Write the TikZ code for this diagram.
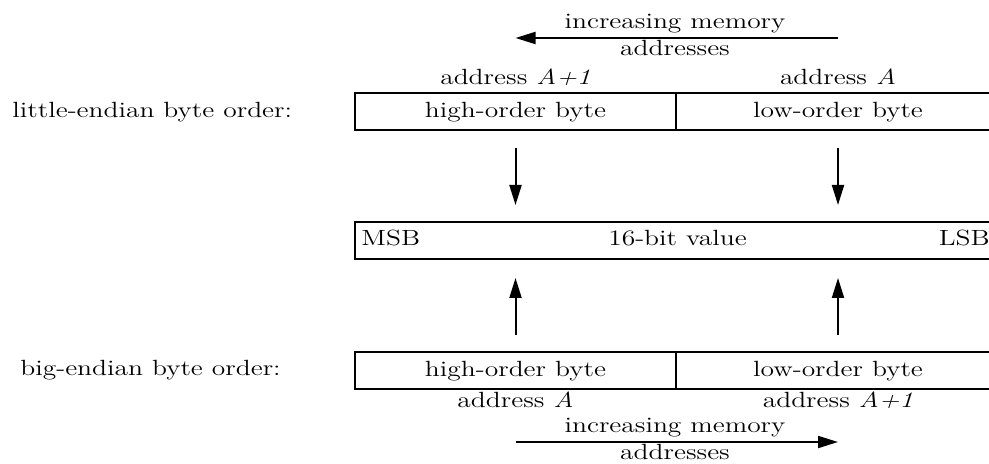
\documentclass[tikz,border=0pt]{standalone}
\usetikzlibrary{arrows.meta}
% widen the serif text a little, as in the printed figure
\newcommand\sx[1]{\scalebox{1.25}[1]{#1}}
\begin{document}
\begin{tikzpicture}[x=0.5pt,y=-0.5pt,
  txt/.style={inner sep=0pt, font=\fontsize{11}{13}\selectfont,
              text height=7.6pt, text depth=2.1pt},
  cell/.style={txt, draw, line width=1pt, minimum height=18.5pt,
               outer sep=0pt, anchor=north west},
  arr/.style={line width=1pt, -{Triangle[length=10pt,width=6pt]}}]
\clip (0,0) rectangle (989,464);

% little-endian row
\node[txt, anchor=west] (le) at (12,112) {\sx{little-endian byte order:}};
\node[cell, minimum width=160.5pt] (lhi) at (355,93.5) {\sx{high-order byte}};
\node[cell, minimum width=162pt]   (llo) at (lhi.north east) {\sx{low-order byte}};
\node[txt] (laddr1) at (lhi.center |- 0,79) {\sx{address \textit{A+1}}};
\node[txt] (laddr0) at (llo.center |- 0,79) {\sx{address \textit{A}}};

% memory direction, little-endian
\coordinate (ltop) at (0,38);
\node[txt] (lmem) at (675,23) {\sx{increasing memory}};
\node[txt] (ladr) at (675,50) {\sx{addresses}};
\draw[arr] (llo.center |- ltop) -- (lhi.center |- ltop);

% the 16-bit value
\node[cell, minimum width=322.5pt] (val) at (355,222) {\sx{16-bit value}};
\node[txt, anchor=west] (msb) at ([xshift=3pt]val.west) {\sx{MSB}};
\node[txt, anchor=east] (lsb) at (990,240.5) {\sx{LSB}};

% big-endian row
\node[txt, anchor=west] (be) at (20,370) {\sx{big-endian byte order:}};
\node[cell, minimum width=160.5pt] (bhi) at (355,352) {\sx{high-order byte}};
\node[cell, minimum width=162pt]   (blo) at (bhi.north east) {\sx{low-order byte}};
\node[txt] (baddr0) at (bhi.center |- 0,402) {\sx{address \textit{A}}};
\node[txt] (baddr1) at (blo.center |- 0,402) {\sx{address \textit{A+1}}};

% memory direction, big-endian
\coordinate (bbot) at (0,442);
\node[txt] (bmem) at (675,427) {\sx{increasing memory}};
\node[txt] (badr) at (675,454) {\sx{addresses}};
\draw[arr] (bhi.center |- bbot) -- (blo.center |- bbot);

% bytes into the value
\coordinate (vhi) at (lhi.south |- val.north);
\coordinate (vlo) at (llo.south |- val.north);
\draw[arr] ([yshift=-9pt]lhi.south) -- ([yshift=8.5pt]vhi);
\draw[arr] ([yshift=-9pt]llo.south) -- ([yshift=8.5pt]vlo);
\coordinate (whi) at (bhi.north |- val.south);
\coordinate (wlo) at (blo.north |- val.south);
\draw[arr] ([yshift=8.5pt]bhi.north) -- ([yshift=-9.5pt]whi);
\draw[arr] ([yshift=8.5pt]blo.north) -- ([yshift=-9.5pt]wlo);
\end{tikzpicture}
\end{document}
